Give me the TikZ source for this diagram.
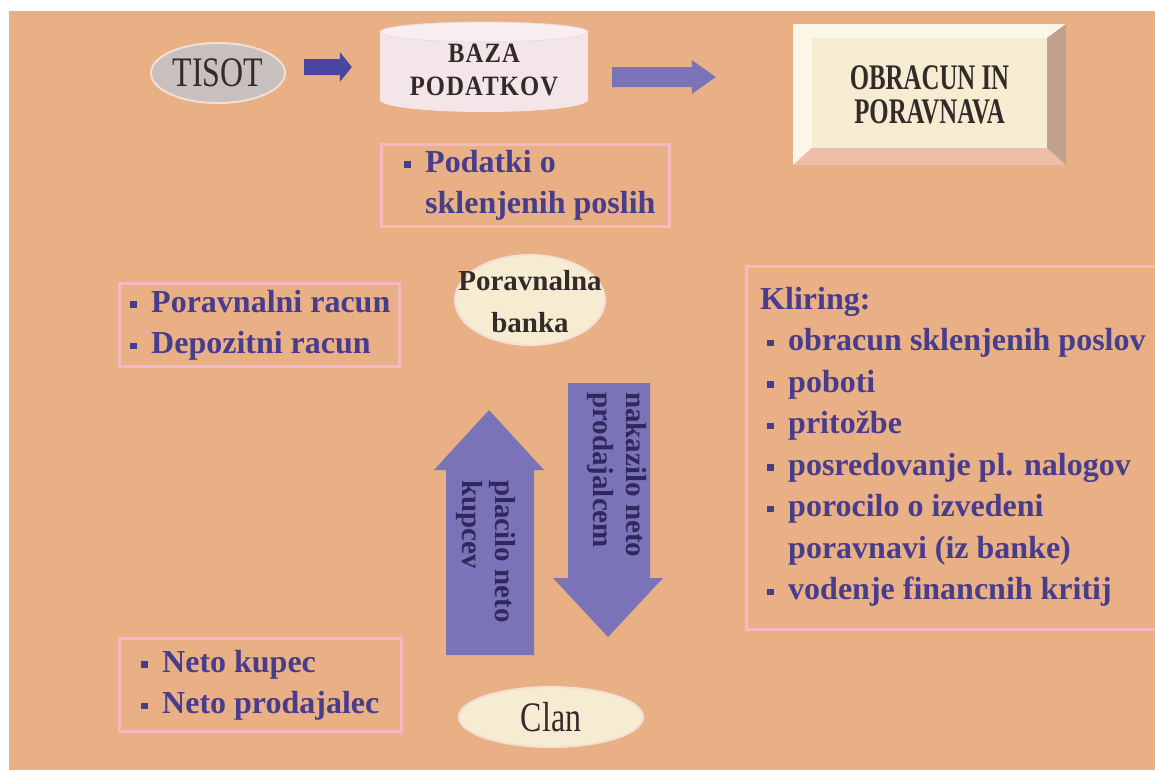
\documentclass[tikz,border=0pt]{standalone}
\usepackage{fontspec}
\setmainfont{Liberation Serif}
\newfontfamily\capsfont{Liberation Serif}[FakeStretch=0.69]
\newfontfamily\bazafont{Liberation Serif}[FakeStretch=0.88,LetterSpace=4]
\newfontfamily\narrowfont{Liberation Serif}[FakeStretch=0.76]
\usetikzlibrary{shapes.geometric,calc}

\definecolor{salmon}{RGB}{233,175,133}
\definecolor{boxline}{RGB}{245,186,192}
\definecolor{inktext}{RGB}{72,60,140}
\definecolor{arrowfill}{RGB}{122,115,183}
\definecolor{arrowdark}{RGB}{72,70,160}
\definecolor{arrowink}{RGB}{48,40,92}
\definecolor{cream}{RGB}{246,236,210}
\definecolor{greyoval}{RGB}{200,192,190}
\definecolor{ovalrim}{RGB}{244,222,214}
\definecolor{headink}{RGB}{52,42,42}
\definecolor{bevellight}{RGB}{252,246,232}
\definecolor{bevelright}{RGB}{192,160,142}
\definecolor{bevelbottom}{RGB}{238,191,166}
\definecolor{cylbody}{RGB}{244,229,233}
\definecolor{cyltop}{RGB}{248,238,240}
\definecolor{cylrim}{RGB}{236,218,223}

% square bullet used in the lists
\newcommand\sq{\makebox[25pt][l]{\hspace{4pt}\raisebox{4.5pt}{\rule{6.5pt}{6.5pt}}}}

\tikzset{
  infobox/.style={draw=boxline, line width=2.5pt, anchor=north west, inner sep=0pt},
  infotext/.style={anchor=north west, inner sep=0pt, align=left, text=inktext,
    font=\bfseries\fontsize{32}{41.5}\selectfont},
  oval/.style={ellipse, inner sep=0pt, line width=2pt},
  arrowtext/.style={rotate=-90, anchor=north west, inner sep=0pt, align=left,
    text=arrowink, font=\bfseries\fontsize{29}{33}\selectfont},
}

\begin{document}
\begin{tikzpicture}[x=1pt,y=-1pt]
\useasboundingbox (0,0) rectangle (1155,769);
\fill[white] (0,0) rectangle (1155,769);
\fill[salmon] (9,11) rectangle (1160,775);

% ---- TISOT
\node[oval, fill=greyoval, draw=ovalrim, minimum width=134pt, minimum height=60pt] (tisot) at (218,73) {};
\node[inner sep=0pt, text=headink, font=\narrowfont\fontsize{42}{42}\selectfont] (tisotlbl) at (tisot) {TISOT};

% ---- database cylinder
\fill[cylbody] (380,32) -- (380,100) arc[start angle=180, end angle=0, x radius=104, y radius=12] -- (588,32) -- cycle;
\filldraw[fill=cyltop, draw=cylrim, line width=0.8pt] (484,32) ellipse[x radius=104, y radius=10];
\node[minimum width=208pt, minimum height=80pt, inner sep=0pt, align=center, text=headink,
  font=\bazafont\bfseries\fontsize{28}{33}\selectfont] (baza) at (484,70) {BAZA\\PODATKOV};

% ---- bevelled box
\fill[bevellight] (793,24) -- (1066,24) -- (1047,38) -- (812,38) -- (812,148) -- (793,165) -- cycle;
\fill[bevelright] (1066,24) -- (1066,165) -- (1047,148) -- (1047,38) -- cycle;
\fill[bevelbottom] (793,165) -- (1066,165) -- (1047,148) -- (812,148) -- cycle;
\fill[cream] (812,38) rectangle (1047,148);
\node[minimum width=273pt, minimum height=141pt, inner sep=0pt, align=center, text=headink,
  font=\capsfont\bfseries\fontsize{36}{34}\selectfont] (obracun) at (929.5,94.5) {OBRACUN IN\\PORAVNAVA};

% ---- block arrows along the top row
\coordinate (a1s) at ($(tisot.east)+(18,-6)$);
\coordinate (a1e) at ($(baza.west)+(-28,-3)$);
\fill[arrowdark] ($(a1s)+(0,-8)$) -- ($(a1e)+(-12,-8)$) -- ($(a1e)+(-12,-15)$) -- (a1e)
  -- ($(a1e)+(-12,15)$) -- ($(a1e)+(-12,8)$) -- ($(a1s)+(0,8)$) -- cycle;
\coordinate (a2s) at ($(baza.east)+(24,7)$);
\coordinate (a2e) at ($(obracun.west)+(-77,-17.5)$);
\fill[arrowfill] ($(a2s)+(0,-10)$) -- ($(a2e)+(-24,-10)$) -- ($(a2e)+(-24,-17)$) -- (a2e)
  -- ($(a2e)+(-24,17)$) -- ($(a2e)+(-24,10)$) -- ($(a2s)+(0,10)$) -- cycle;

% ---- list boxes
\node[infobox, minimum width=288pt, minimum height=82pt] (podbox) at (380,143) {};
\node[infotext] (podtext) at (400,150) {\sq Podatki o\\\hspace*{25pt}sklenjenih poslih};

\node[infobox, minimum width=280pt, minimum height=83pt] (racbox) at (118,282) {};
\node[infotext] (ractext) at (126,290) {\sq Poravnalni racun\\\sq Depozitni racun};

\node[infobox, minimum width=282pt, minimum height=93pt] (netobox) at (118,637) {};
\node[infotext] (netotext) at (137,650) {\sq Neto kupec\\\sq Neto prodajalec};

\node[infobox, minimum width=430pt, minimum height=363pt] (klirbox) at (745,265) {};
\node[infotext] (klirtext) at (760,287) {Kliring:\\
  \hspace*{3pt}\sq obracun sklenjenih poslov\\
  \hspace*{3pt}\sq poboti\\
  \hspace*{3pt}\sq pritožbe\\
  \hspace*{3pt}\sq posredovanje pl. nalogov\\
  \hspace*{3pt}\sq porocilo o izvedeni\\
  \hspace*{28pt}poravnavi (iz banke)\\
  \hspace*{3pt}\sq vodenje financnih kritij};

% ---- settlement bank and member
\node[oval, fill=cream, draw=ovalrim, minimum width=150pt, minimum height=90pt] (banka) at (530,300) {};
\node[inner sep=0pt, align=center, text=headink, font=\bfseries\fontsize{29}{42}\selectfont] (bankalbl) at (530,302) {Poravnalna\\banka};

\node[oval, fill=cream, draw=ovalrim, minimum width=184pt, minimum height=60pt] (clan) at (551,717) {};
\node[inner sep=0pt, text=headink, font=\narrowfont\fontsize{42}{42}\selectfont] (clanlbl) at (clan) {Clan};

% ---- payment arrows between bank and member
\coordinate (dtop) at (609,383);
\coordinate (dtip) at (608,637);
\fill[arrowfill] ($(dtop)+(-41,0)$) -- ($(dtop)+(41,0)$) -- ($(dtip)+(42,-59)$) -- ($(dtip)+(55,-59)$)
  -- (dtip) -- ($(dtip)+(-55,-59)$) -- ($(dtip)+(-40,-59)$) -- cycle;
\node[arrowtext] (dtext) at (647,392) {nakazilo neto\\prodajalcem};

\coordinate (ubot) at (490,655);
\coordinate (utip) at (489,410);
\fill[arrowfill] ($(ubot)+(-44,0)$) -- ($(ubot)+(44,0)$) -- ($(utip)+(45,60)$) -- ($(utip)+(55,60)$)
  -- (utip) -- ($(utip)+(-55,60)$) -- ($(utip)+(-43,60)$) -- cycle;
\node[arrowtext] (utext) at (516,480) {placilo neto\\kupcev};
\end{tikzpicture}
\end{document}
